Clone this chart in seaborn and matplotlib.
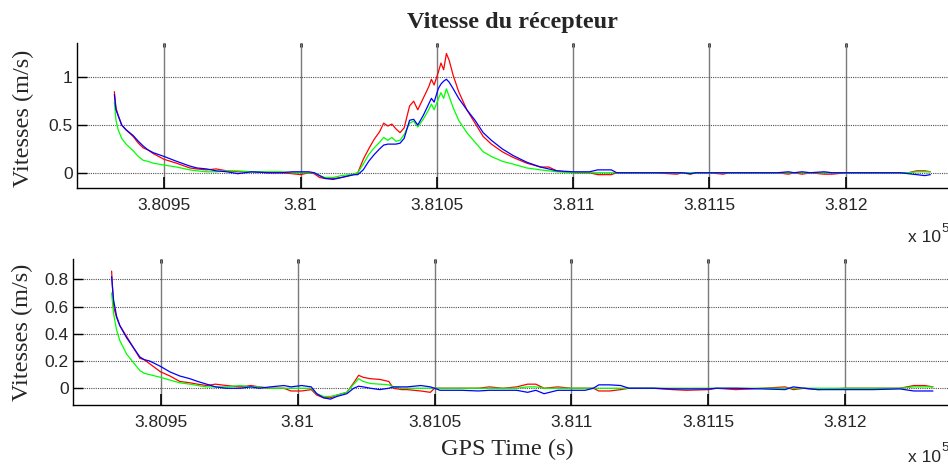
import matplotlib
matplotlib.use("Agg")
import matplotlib.pyplot as plt
import matplotlib.ticker as mticker
import seaborn as sns
import numpy as np

# ---------------- data ----------------
t_top = [380931.7, 380932.3, 380933.1, 380934.4, 380936.0, 380938.6, 380940.5, 380942.3, 380944.0, 380946.0,
         380950.0, 380954.5, 380959.4, 380962.0, 380965.5, 380969.0, 380973.0, 380977.0, 380982.0, 380988.0,
         380993.0, 380997.0, 381000.0, 381003.0, 381005.0, 381007.0, 381009.0, 381012.0, 381015.0, 381018.0,
         381020.0, 381021.0, 381023.0, 381025.0, 381027.0, 381029.0, 381030.5, 381032.0, 381033.5, 381035.0,
         381036.5, 381038.0, 381040.0, 381041.5, 381043.0, 381045.0, 381047.0, 381048.0, 381049.0, 381050.5,
         381051.5, 381052.5, 381053.5, 381054.5, 381056.0, 381058.0, 381061.0, 381064.0, 381067.0, 381070.0,
         381074.0, 381078.0, 381083.0, 381088.0, 381091.0, 381094.0, 381100.0, 381106.0, 381109.0, 381111.0,
         381114.0, 381116.0, 381122.0, 381130.0, 381138.0, 381140.0, 381143.0, 381145.0, 381150.0, 381155.0,
         381157.0, 381165.0, 381175.0, 381179.0, 381181.0, 381184.0, 381187.0, 381192.0, 381195.0, 381200.0,
         381210.0, 381220.0, 381223.0, 381226.0, 381229.0, 381231.0]
vx_top = [0.85, 0.68, 0.60, 0.50, 0.45, 0.38, 0.31, 0.26, 0.24, 0.20,
          0.14, 0.10, 0.05, 0.04, 0.03, 0.04, 0.02, 0.01, 0.01, 0.00,
          0.00, -0.01, -0.02, 0.00, -0.01, -0.05, -0.06, -0.06, -0.05, -0.03,
          -0.01, 0.00, 0.14, 0.25, 0.35, 0.43, 0.52, 0.49, 0.51, 0.46,
          0.42, 0.47, 0.70, 0.75, 0.66, 0.78, 0.90, 0.98, 0.92, 1.05,
          1.15, 1.08, 1.25, 1.18, 1.02, 0.85, 0.66, 0.52, 0.38, 0.30,
          0.22, 0.16, 0.10, 0.06, 0.06, 0.02, 0.00, 0.00, -0.02, -0.02,
          -0.02, 0.00, 0.00, 0.00, -0.015, 0.00, -0.015, 0.00, 0.00, -0.015,
          0.00, 0.00, 0.00, -0.015, 0.00, -0.015, 0.00, -0.015, -0.015, 0.00,
          0.00, 0.00, 0.00, 0.02, 0.02, 0.01]
vy_top = [0.74, 0.55, 0.45, 0.36, 0.30, 0.23, 0.17, 0.13, 0.12, 0.10,
          0.08, 0.06, 0.03, 0.02, 0.01, 0.01, 0.02, 0.02, 0.01, 0.01,
          0.01, 0.00, 0.00, 0.00, 0.00, -0.03, -0.05, -0.05, -0.03, -0.02,
          -0.01, 0.00, 0.09, 0.19, 0.26, 0.32, 0.37, 0.34, 0.37, 0.33,
          0.34, 0.40, 0.52, 0.54, 0.48, 0.56, 0.66, 0.72, 0.66, 0.77,
          0.84, 0.78, 0.88, 0.80, 0.68, 0.55, 0.42, 0.32, 0.22, 0.17,
          0.12, 0.09, 0.05, 0.03, 0.02, 0.01, 0.00, 0.00, 0.00, 0.00,
          0.00, 0.00, 0.00, 0.00, 0.00, 0.00, 0.00, 0.00, 0.00, 0.00,
          0.00, 0.00, 0.00, 0.00, 0.00, 0.00, 0.00, 0.00, 0.00, 0.00,
          0.00, 0.00, 0.00, 0.01, 0.01, 0.01]
vz_top = [0.82, 0.66, 0.60, 0.50, 0.45, 0.39, 0.33, 0.28, 0.24, 0.21,
          0.17, 0.12, 0.07, 0.05, 0.04, 0.02, 0.01, -0.01, 0.01, 0.00,
          0.00, 0.01, 0.01, 0.01, 0.00, -0.03, -0.06, -0.07, -0.05, -0.03,
          -0.02, -0.02, 0.03, 0.12, 0.19, 0.25, 0.29, 0.30, 0.30, 0.30,
          0.31, 0.36, 0.55, 0.56, 0.50, 0.60, 0.72, 0.78, 0.74, 0.88,
          0.93, 0.96, 0.98, 0.95, 0.88, 0.78, 0.66, 0.55, 0.42, 0.34,
          0.25, 0.18, 0.11, 0.06, 0.04, 0.02, 0.01, 0.01, 0.03, 0.03,
          0.03, 0.00, 0.00, 0.00, 0.00, 0.00, -0.01, 0.00, 0.00, 0.00,
          0.00, 0.00, 0.00, 0.01, 0.00, 0.01, 0.00, 0.01, 0.00, 0.00,
          0.00, 0.00, -0.01, -0.02, -0.03, -0.02]

t_bot = [380932.1, 380932.8, 380933.9, 380935.1, 380937.6, 380940.0, 380942.4, 380944.0, 380946.0, 380950.0,
         380953.4, 380957.0, 380960.7, 380963.5, 380966.8, 380970.0, 380974.0, 380979.0, 380983.0, 380986.0,
         380990.0, 380995.0, 380997.6, 381001.5, 381005.0, 381007.0, 381009.5, 381012.0, 381014.4, 381018.0,
         381020.5, 381022.3, 381024.0, 381026.6, 381030.0, 381033.3, 381035.0, 381038.0, 381040.0, 381045.0,
         381048.5, 381050.0, 381052.0, 381060.0, 381066.0, 381070.0, 381075.0, 381080.0, 381084.0, 381087.0,
         381090.0, 381095.0, 381100.0, 381105.0, 381108.0, 381110.0, 381114.0, 381118.0, 381121.0, 381130.0,
         381137.0, 381142.0, 381150.0, 381153.0, 381160.0, 381170.0, 381178.0, 381181.0, 381185.0, 381190.0,
         381200.0, 381210.0, 381220.0, 381225.0, 381229.0, 381232.0]
vx_bot = [0.86, 0.60, 0.52, 0.46, 0.38, 0.30, 0.22, 0.21, 0.18, 0.12,
          0.09, 0.05, 0.04, 0.03, 0.02, 0.03, 0.02, 0.01, 0.02, 0.01,
          0.00, 0.00, -0.02, -0.02, -0.01, -0.05, -0.07, -0.07, -0.05, -0.03,
          0.04, 0.095, 0.08, 0.07, 0.065, 0.05, 0.00, -0.01, -0.01, -0.02,
          -0.03, 0.00, 0.00, 0.00, 0.00, 0.01, 0.00, 0.01, 0.03, 0.03,
          0.00, 0.01, 0.00, 0.00, 0.00, -0.02, -0.02, -0.01, 0.00, 0.00,
          -0.01, -0.015, -0.01, 0.00, -0.01, 0.00, 0.01, -0.01, 0.00, -0.01,
          0.00, 0.00, 0.00, 0.02, 0.02, 0.01]
vy_bot = [0.70, 0.55, 0.43, 0.35, 0.25, 0.19, 0.13, 0.11, 0.10, 0.08,
          0.06, 0.04, 0.03, 0.02, 0.01, 0.01, 0.01, 0.02, 0.01, 0.01,
          0.00, 0.00, 0.00, 0.00, 0.00, -0.04, -0.06, -0.06, -0.05, -0.03,
          0.03, 0.07, 0.05, 0.035, 0.03, 0.025, 0.01, 0.00, 0.00, 0.00,
          0.00, 0.00, 0.00, 0.00, 0.00, 0.00, 0.00, 0.00, 0.01, 0.01,
          0.00, 0.00, 0.00, 0.00, 0.00, 0.00, 0.00, 0.00, 0.00, 0.00,
          0.00, 0.00, 0.00, 0.00, 0.00, 0.00, 0.00, 0.00, 0.00, 0.00,
          0.00, 0.00, 0.00, 0.01, 0.01, 0.01]
vz_bot = [0.82, 0.65, 0.53, 0.46, 0.37, 0.30, 0.23, 0.21, 0.20, 0.16,
          0.12, 0.09, 0.07, 0.05, 0.03, 0.01, 0.00, 0.00, 0.01, 0.00,
          0.01, 0.02, 0.01, 0.02, 0.01, -0.04, -0.07, -0.08, -0.06, -0.04,
          0.00, 0.015, 0.01, 0.00, -0.01, 0.00, 0.01, 0.01, 0.01, 0.02,
          0.01, 0.00, -0.015, -0.015, -0.02, -0.015, -0.015, -0.015, -0.03, -0.015,
          -0.04, -0.015, -0.015, -0.015, 0.00, 0.025, 0.025, 0.02, 0.00, 0.00,
          -0.005, -0.005, -0.005, 0.00, 0.00, -0.005, -0.01, 0.01, 0.00, -0.01,
          -0.01, -0.01, -0.005, -0.02, -0.02, -0.02]

x_ticks = [380950, 381000, 381050, 381100, 381150, 381200]
y_ticks_top = [0, 0.5, 1]
y_ticks_bot = [0, 0.2, 0.4, 0.6, 0.8]

title_text = "Vitesse du récepteur"
ylabel_text = "Vitesses (m/s)"
xlabel_text = "GPS Time (s)"

# ---------------- style ----------------
sns.set_style("white")
plt.rcParams["font.family"] = ["Liberation Sans", "DejaVu Sans"]

W, H = 948, 467
fig = plt.figure(figsize=(W / 100, H / 100), dpi=100)
ax1 = fig.add_axes([77 / W, 1 - 188 / H, (W - 77) / W, (188 - 43) / H])
ax2 = fig.add_axes([73 / W, 1 - 405 / H, (W - 73) / W, (405 - 259.3) / H])

serif = ["Liberation Serif", "DejaVu Serif"]


def draw(ax, t, r, g, b, ylim, yticks):
    for vals, col in ((r, "#ff0000"), (g, "#00ff00"), (b, "#0000ff")):
        sns.lineplot(x=t, y=vals, color=col, linewidth=0.9, ax=ax,
                     estimator=None, sort=False, legend=False)
    ax.set_xlim(380918, 381237.5)
    ax.set_ylim(*ylim)
    ax.set_xticks(x_ticks)
    ax.set_yticks(yticks)
    ax.xaxis.set_major_formatter(mticker.FuncFormatter(lambda v, p: "{:g}".format(v / 1e5)))
    ax.yaxis.set_major_formatter(mticker.FuncFormatter(lambda v, p: "{:g}".format(v)))
    ax.xaxis.grid(True, linestyle="-", color="#7a7a7a", linewidth=1.0)
    ax.yaxis.grid(True, linestyle=(0, (1, 1)), color="#505050", linewidth=0.8)
    ax.set_axisbelow(True)
    for s in ("top", "right"):
        ax.spines[s].set_visible(False)
    for s in ("left", "bottom"):
        ax.spines[s].set_color("black")
        ax.spines[s].set_linewidth(1.0)
    ax.tick_params(axis="x", direction="in", length=8, width=1.2, color="black",
                   labelsize=12.5, pad=7, bottom=True, top=False)
    ax.tick_params(axis="y", direction="in", length=7, width=1.0, color="black",
                   labelsize=12.5, pad=3, left=True, right=False)
    sec = ax.secondary_xaxis("top")
    sec.set_xticks(x_ticks)
    sec.tick_params(axis="x", direction="in", length=3, width=1.8, color="black",
                    labeltop=False)
    for s in sec.spines.values():
        s.set_visible(False)
    ax.set_xlabel("")
    ax.set_ylabel(ylabel_text, fontsize=17.5, family=serif)


draw(ax1, t_top, vx_top, vy_top, vz_top, (-0.16, 1.36), y_ticks_top)
draw(ax2, t_bot, vx_bot, vy_bot, vz_bot, (-0.123, 0.947), y_ticks_bot)

ax1.set_title(title_text, fontsize=17.5, fontweight="bold", family=serif, pad=11)
ax1.yaxis.set_label_coords(-0.0494, 0.48)
ax2.yaxis.set_label_coords(-0.0457, 0.5)

ax2.set_xlabel(xlabel_text, fontsize=17.5, family=serif)
ax2.xaxis.set_label_coords(0.496, -0.235)
ax2.xaxis.label.set_va("top")

# exponent labels (x 10^5)
for yc in (238, 457):
    fig.text(908 / W, 1 - yc / H, "x 10", fontsize=12.5, va="center", ha="left")
    fig.text(941 / W, 1 - (yc - 9) / H, "5", fontsize=9.5, va="center", ha="left")

fig.savefig("out.png", dpi=100)
